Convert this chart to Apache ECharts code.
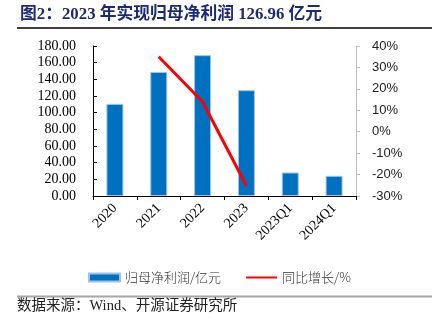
<!DOCTYPE html>
<html><head><meta charset="utf-8">
<script src="https://cdn.jsdelivr.net/npm/echarts@6/dist/echarts.min.js"></script>
<style>html,body{margin:0;padding:0;background:#fff}#c{width:432px;height:327px}</style>
</head><body><div id="c"></div>
<script>
var categories = ['2020','2021','2022','2023','2023Q1','2024Q1'];
var profitValues = [110.5, 148.8, 169.0, 126.96, 28.2, 24.2];
var yoyValues = [null, 35.0, 14.0, -25.2, null, null];
var leftTicks = {min: 0, max: 180, interval: 20};
var rightTicks = {min: -30, max: 40, interval: 10};
var titleText = '图2：2023 年实现归母净利润 126.96 亿元';
var sourceText = '数据来源：Wind、开源证券研究所';
var seriesNames = ['归母净利润/亿元', '同比增长/%'];

var chart = echarts.init(document.getElementById('c'), null, {renderer: 'canvas'});
var serif = "'Liberation Serif', 'Noto Sans CJK SC', serif";
chart.setOption({
  animation: false,
  backgroundColor: '#fff',
  grid: {left: 93, right: 76, top: 46, bottom: 131},
  legend: {
    left: 83, top: 266, itemGap: 24, itemWidth: 31, itemHeight: 8,
    textStyle: {fontFamily: "'Noto Sans CJK SC', sans-serif", fontSize: 13, color: '#333', fontWeight: 300},
    data: [{name: seriesNames[0], icon: 'rect'}, {name: seriesNames[1], itemStyle: {opacity: 0}}]
  },
  xAxis: {
    type: 'category', data: categories,
    axisLine: {lineStyle: {color: '#000', width: 1}},
    axisTick: {show: true, length: 4, lineStyle: {color: '#000'}},
    axisLabel: {rotate: 45, margin: 10, fontFamily: serif, fontSize: 14, color: '#000'}
  },
  yAxis: [{
    type: 'value', min: leftTicks.min, max: leftTicks.max, interval: leftTicks.interval,
    axisLine: {show: true, lineStyle: {color: '#000'}},
    axisTick: {show: true, inside: true, length: 4, lineStyle: {color: '#000'}},
    splitLine: {show: false},
    axisLabel: {margin: 17, fontFamily: serif, fontSize: 14, color: '#000',
      formatter: function (v) { return v.toFixed(2); }}
  }, {
    type: 'value', position: 'right', min: rightTicks.min, max: rightTicks.max, interval: rightTicks.interval,
    axisLine: {show: true, lineStyle: {color: '#BFBFBF'}},
    axisTick: {show: true, length: 4, lineStyle: {color: '#BFBFBF'}},
    splitLine: {show: false},
    axisLabel: {margin: 16, fontFamily: "'Liberation Sans', sans-serif", fontSize: 13, color: '#222',
      formatter: '{value}%'}
  }],
  series: [{
    name: seriesNames[0], type: 'bar', data: profitValues, barWidth: 17,
    itemStyle: {color: '#0070C0', borderColor: '#9DC3E6', borderWidth: 1}
  }, {
    name: seriesNames[1], type: 'line', yAxisIndex: 1, data: yoyValues,
    symbol: 'none', connectNulls: false,
    lineStyle: {color: '#FF0000', width: 3}, itemStyle: {color: '#FF0000'}
  }],
  graphic: [
    {type: 'text', left: 20, top: 6, style: {text: titleText, fontFamily: serif, fontSize: 16.8, fontWeight: 'bold', fill: '#1B2A78'}},
    {type: 'line', shape: {x1: 17, y1: 28, x2: 432, y2: 28}, style: {stroke: '#000', lineWidth: 1.5}},
    {type: 'line', shape: {x1: 17, y1: 296.5, x2: 432, y2: 296.5}, style: {stroke: '#A6A6A6', lineWidth: 2}},
    {type: 'text', left: 17, top: 299, style: {text: sourceText, fontFamily: serif, fontSize: 14.5, fill: '#222'}}
  ]
});
</script></body></html>
